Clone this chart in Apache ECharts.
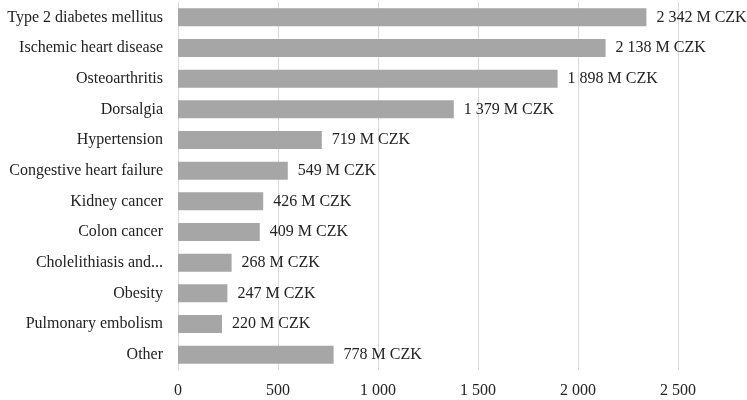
<!DOCTYPE html>
<html>
<head>
<meta charset="utf-8">
<script src="https://cdn.jsdelivr.net/npm/echarts@6/dist/echarts.min.js"></script>
<style>
html,body{margin:0;padding:0;background:#fff;}
#c{width:747px;height:400px;}
</style>
</head>
<body>
<div id="c"></div>
<script>
var categories = ["Type 2 diabetes mellitus","Ischemic heart disease","Osteoarthritis","Dorsalgia","Hypertension","Congestive heart failure","Kidney cancer","Colon cancer","Cholelithiasis and...","Obesity","Pulmonary embolism","Other"];
var values = [2342,2138,1898,1379,719,549,426,409,268,247,220,778];
var xTicks = [0,500,1000,1500,2000,2500];

function fmt(n){ return String(n).replace(/\B(?=(\d{3})+(?!\d))/g, ' '); }

var font = '"Liberation Serif", "DejaVu Serif", serif';
var fs = 16;
var chart = echarts.init(document.getElementById('c'), null, {renderer:'canvas'});
chart.setOption({
  animation:false,
  grid:{left:178, top:2, width:500, height:368, containLabel:false},
  xAxis:{
    type:'value', min:xTicks[0], max:xTicks[xTicks.length-1], interval:500,
    axisLine:{show:false}, axisTick:{show:false},
    splitLine:{show:true, lineStyle:{color:'#d9d9d9', width:1}},
    axisLabel:{formatter:function(v){return fmt(v);}, color:'#222', fontFamily:font, fontSize:fs, margin:13}
  },
  yAxis:{
    type:'category', data:categories, inverse:true,
    axisLine:{show:true, lineStyle:{color:'#d9d9d9', width:1}},
    axisTick:{show:false},
    axisLabel:{color:'#222', fontFamily:font, fontSize:fs, margin:15}
  },
  series:[{
    type:'bar', data:values, barWidth:18,
    itemStyle:{color:'#a6a6a6'},
    label:{show:true, position:'right', distance:10, color:'#222', fontFamily:font, fontSize:fs,
      formatter:function(p){return fmt(p.value)+' M CZK';}}
  }]
});
</script>
</body>
</html>
